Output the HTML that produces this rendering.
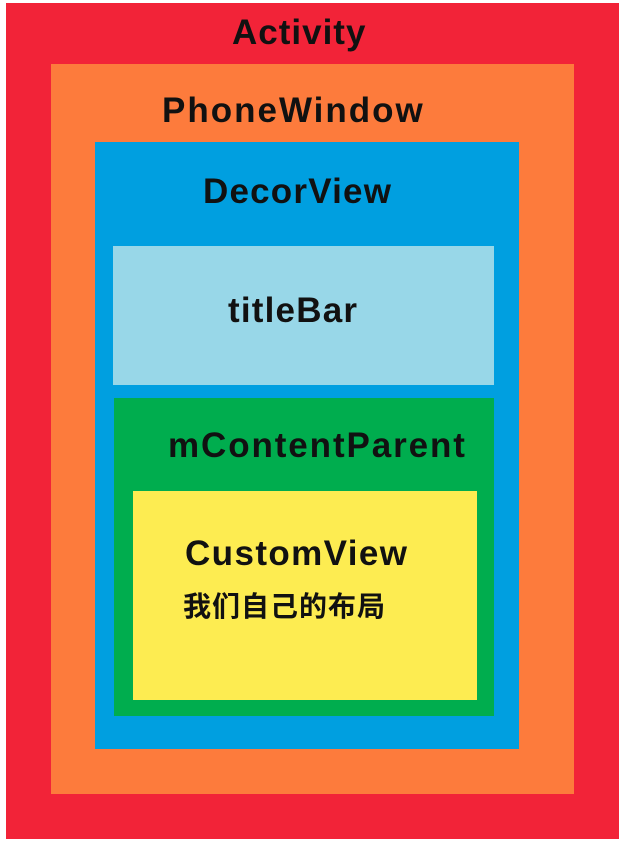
<!DOCTYPE html>
<html><head><meta charset="utf-8"><style>
html,body{margin:0;padding:0;width:626px;height:844px;background:#fff;overflow:hidden;position:relative}
div{position:absolute}
.t{font-family:"Liberation Sans","Noto Sans CJK SC",sans-serif;font-weight:bold;font-size:35px;line-height:36px;color:#111;white-space:nowrap}
</style></head><body>
<div style="left:6px;top:3px;width:613px;height:836px;background:#f22338"></div>
<div style="left:51px;top:64px;width:523px;height:730px;background:#fd7b3c"></div>
<div style="left:95px;top:142px;width:424px;height:607px;background:#009fe0"></div>
<div style="left:113px;top:246px;width:381px;height:139px;background:#98d7e8"></div>
<div style="left:114px;top:398px;width:380px;height:318px;background:#00ad4e"></div>
<div style="left:133px;top:491px;width:344px;height:209px;background:#fdec51"></div>
<div class="t" style="left:232px;top:15px;letter-spacing:1px">Activity</div>
<div class="t" style="left:162px;top:93px;letter-spacing:2px">PhoneWindow</div>
<div class="t" style="left:203px;top:174px;letter-spacing:1.2px">DecorView</div>
<div class="t" style="left:228px;top:293px;letter-spacing:1.2px">titleBar</div>
<div class="t" style="left:168px;top:428px;letter-spacing:1.9px">mContentParent</div>
<div class="t" style="left:185px;top:536px;letter-spacing:1.4px">CustomView</div>
<div class="t" style="left:183px;top:589px;font-size:28px;letter-spacing:1px">我们自己的布局</div>
</body></html>
